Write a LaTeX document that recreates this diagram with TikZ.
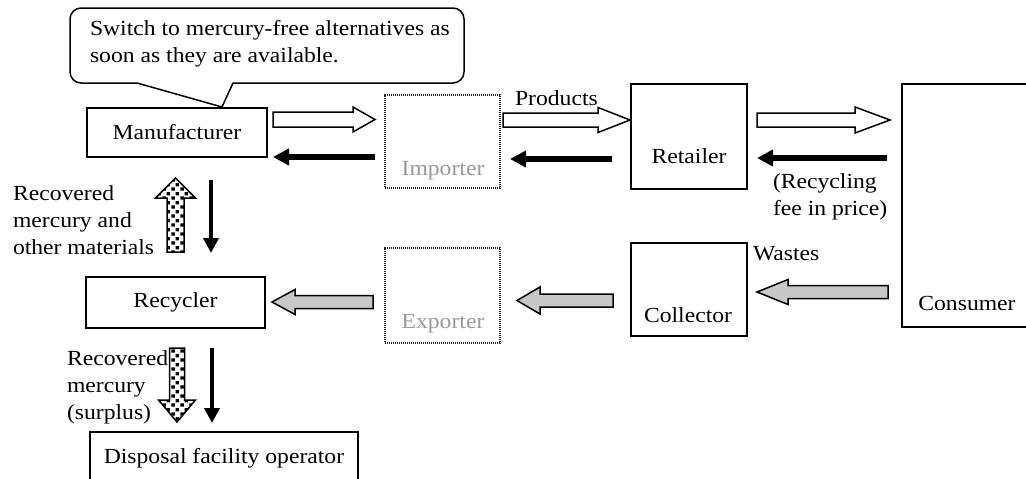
\documentclass[tikz,border=0pt]{standalone}
\usepackage{fontspec}
\setmainfont[FakeStretch=1.1]{Liberation Serif}
\usetikzlibrary{arrows.meta,patterns}
\pgfdeclarepatternformonly{stipple}{\pgfqpoint{0pt}{0pt}}{\pgfqpoint{9pt}{9pt}}{\pgfqpoint{9pt}{9pt}}{%
 \pgfpathrectangle{\pgfqpoint{0.5pt}{0.5pt}}{\pgfqpoint{3.6pt}{3.6pt}}%
 \pgfpathrectangle{\pgfqpoint{5pt}{5pt}}{\pgfqpoint{3.6pt}{3.6pt}}%
 \pgfusepath{fill}}
\definecolor{greyfill}{HTML}{C8C8C8}
\definecolor{dotline}{HTML}{222222}
\definecolor{greytext}{HTML}{999999}
% horizontal block arrow: style, x start, x tip, y centre, half shaft, half head, head length
\newcommand\harr[7]{\draw[#1] (#2,{#4-#5}) -- ({#3-(#7)*sign(#3-#2)},{#4-#5}) -- ({#3-(#7)*sign(#3-#2)},{#4-#6}) -- (#3,#4) -- ({#3-(#7)*sign(#3-#2)},{#4+#6}) -- ({#3-(#7)*sign(#3-#2)},{#4+#5}) -- (#2,{#4+#5}) -- cycle;}
% vertical block arrow: style, x centre, y start, y tip, half shaft, half head, head length
\newcommand\varr[7]{\draw[#1] ({#2-#5},#3) -- ({#2-#5},{#4-(#7)*sign(#4-#3)}) -- ({#2-#6},{#4-(#7)*sign(#4-#3)}) -- (#2,#4) -- ({#2+#6},{#4-(#7)*sign(#4-#3)}) -- ({#2+#5},{#4-(#7)*sign(#4-#3)}) -- ({#2+#5},#3) -- cycle;}
% box node: style, name, x1, y1, x2, y2, text
\newcommand\boxnode[7]{\node[#1, minimum width={(#5-#3)*1pt}, minimum height={(#6-#4)*1pt}] (#2) at ({(#3+#5)/2},{(#4+#6)/2}) {#7};}
\begin{document}
\begin{tikzpicture}[x=1pt,y=-1pt,
  every node/.style={font=\fontsize{21.5}{27}\selectfont, inner sep=0pt, outer sep=0pt},
  solidbox/.style={draw, line width=1.6pt},
  dotbox/.style={draw=dotline, line width=1.8pt, dash pattern=on 1.3pt off 0.7pt},
  hollow/.style={draw, line width=1.5pt, fill=white, line join=miter},
  greyarr/.style={draw, line width=1.5pt, fill=greyfill, line join=miter},
  stiparr/.style={draw, line width=1.5pt, preaction={fill=white}, pattern=stipple, line join=miter},
  blackh/.style={line width=5.5pt, -{Triangle[length=16pt,width=16pt]}},
  blackv/.style={line width=3.5pt, -{Triangle[length=15pt,width=15pt]}},
  lbl/.style={align=left}]
\useasboundingbox (0,0) rectangle (1026,479);
\clip (0,0) rectangle (1026,479);
\fill[white] (0,0) rectangle (1026,479);

% callout
\node[lbl, anchor=north west] (callout) at (90,20.5) {Switch to mercury-free alternatives as\\soon as they are available.};
\draw[line width=1.5pt, line join=round] (137,83) [rounded corners=11pt] -- (70,83) -- (70,8) -- (464,8) -- (464,83) [sharp corners] -- (233,83) -- (222,107) -- cycle;

% boxes
\boxnode{solidbox}{manu}{87}{108}{267}{157}{Manufacturer}
\boxnode{dotbox}{imp}{385}{95}{500}{188}{}
\node[anchor=base, text=greytext] (imptext) at (443,175) {Importer};
\boxnode{solidbox}{ret}{631}{84}{747}{189}{}
\node[anchor=base] (rettext) at (689,163) {Retailer};
\boxnode{solidbox}{cons}{902}{84}{1045}{327}{}
\node[anchor=base] (constext) at (967,310) {Consumer};
\boxnode{solidbox}{coll}{631}{243}{747}{336}{}
\node[anchor=base] (colltext) at (688,322) {Collector};
\boxnode{dotbox}{exp}{385}{248}{500}{343}{}
\node[anchor=base, text=greytext] (exptext) at (443,328) {Exporter};
\boxnode{solidbox}{rec}{86}{277}{265}{328}{Recycler}
\boxnode{solidbox}{disp}{90}{432}{358}{500}{}
\node[anchor=base] (disptext) at (224,463) {Disposal facility operator};

% labels
\node[anchor=base west] (products) at (515,105) {Products};
\node[lbl, anchor=north west] (recfee) at (773,173.5) {(Recycling\\fee in price)};
\node[anchor=base west] (wastes) at (753,260) {Wastes};
\node[lbl, anchor=north west] (recmat) at (13,186) {Recovered\\mercury and\\other materials};
\node[lbl, anchor=north west] (recsur) at (67,351) {Recovered\\mercury\\(surplus)};

% product flow (hollow)
\harr{hollow}{273}{375}{119.5}{7.5}{12.5}{22}
\harr{hollow}{503}{630}{120}{7}{12.5}{32}
\harr{hollow}{757}{890}{120}{7}{13}{35}

% money flow (black)
\draw[blackh] (375,157) -- (273,157);
\draw[blackh] (612,159) -- (510,159);
\draw[blackh] (887,158) -- (757,158);
\draw[blackv] (211,180) -- (211,253);
\draw[blackv] (212,348) -- (212,423);

% waste flow (grey)
\harr{greyarr}{888}{757}{292}{6.5}{12.5}{31}
\harr{greyarr}{613}{517}{300.5}{6.5}{13.5}{23}
\harr{greyarr}{373}{272}{302}{6.5}{12.5}{23}

% recovered mercury (stippled)
\varr{stiparr}{175.5}{252}{178}{8.5}{20}{20}
\varr{stiparr}{177}{348}{422}{7.5}{18.5}{22}
\end{tikzpicture}
\end{document}
